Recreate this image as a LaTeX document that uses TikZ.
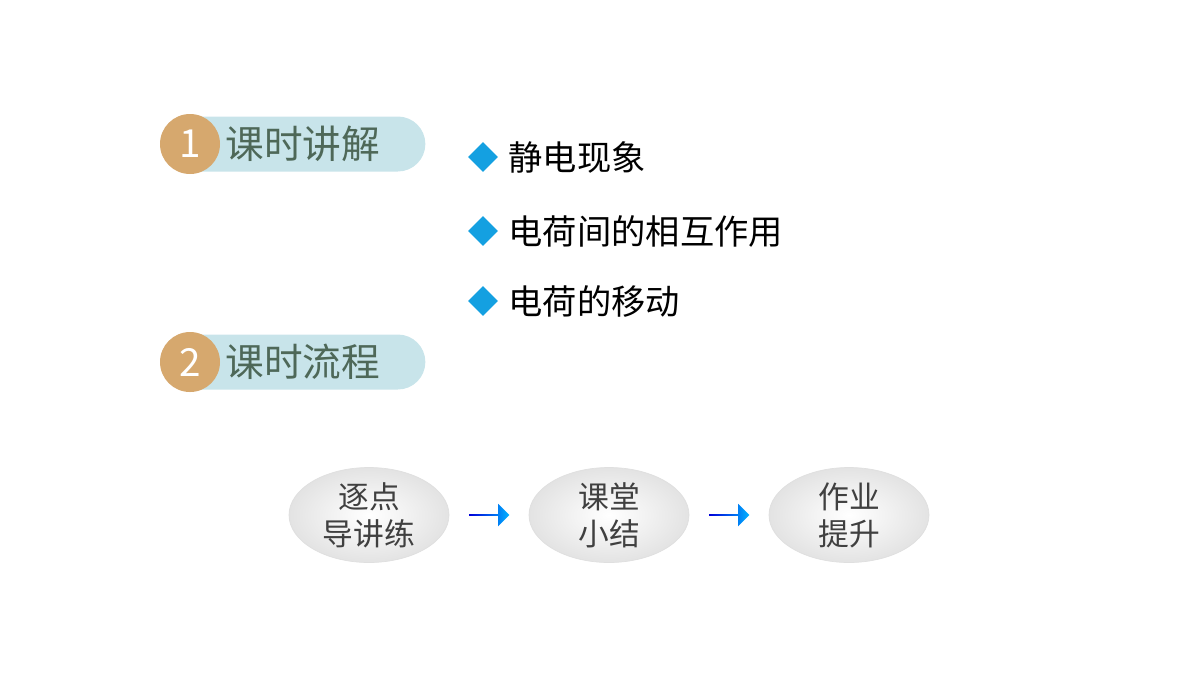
\documentclass[tikz,border=0pt]{standalone}
\usepackage{fontspec}
\setmainfont{Noto Sans CJK SC}
\usetikzlibrary{shapes.geometric,shapes.arrows,positioning,calc}
\definecolor{pillblue}{RGB}{200,228,234}
\definecolor{badgeorange}{RGB}{214,168,110}
\definecolor{headtext}{RGB}{78,104,88}
\definecolor{diamondblue}{RGB}{20,160,225}
\tikzset{
  headpill/.style={fill=pillblue,rounded corners=0.55cm,minimum height=1.1cm,minimum width=5.1cm,inner sep=0pt},
  headbadge/.style={circle,fill=badgeorange,minimum size=1.2cm,inner sep=0pt,text=white,font=\fontsize{22}{22}\selectfont},
  headline/.style={text=headtext,font=\fontsize{22}{22}\selectfont,anchor=west,inner sep=0pt},
  pointtext/.style={font=\fontsize{19.5}{22}\selectfont,anchor=west,inner sep=0pt},
  dmark/.style={diamond,fill=diamondblue,minimum size=0.6cm,inner sep=0pt},
  flowstep/.style={ellipse,minimum width=3.2cm,minimum height=1.9cm,inner sep=0pt,
    draw=gray!25,inner color=white,outer color=gray!22,align=center,
    text=black!75,font=\fontsize{17.5}{21}\selectfont},
  flowarrow/.style={single arrow,minimum height=0.8cm,minimum width=0.45cm,single arrow head extend=0.08cm,
    inner sep=0pt,left color=blue!85!black,right color=cyan!70!blue}
}
\begin{document}
\begin{tikzpicture}
\useasboundingbox (0,0) rectangle (24,-13.5);
% headings
\node[headpill,anchor=west] (p1) at (3.4,-2.88) {};
\node[headbadge] (b1) at (3.8,-2.88) {1};
\node[headline] (h1) at (4.5,-2.88) {课时讲解};
\node[headpill,anchor=west] (p2) at (3.4,-7.24) {};
\node[headbadge] (b2) at (3.8,-7.24) {2};
\node[headline] (h2) at (4.5,-7.24) {课时流程};
% points
\foreach \y/\t [count=\i] in {-3.14/静电现象,-4.62/电荷间的相互作用,-6.02/电荷的移动}{
  \node[dmark] (m\i) at (9.66,\y) {};
  \node[pointtext,right=0.2cm of m\i] (t\i) {\t};
}
% flow
\node[flowstep] (s1) at (7.38,-10.3) {逐点\\导讲练};
\node[flowstep] (s2) at (12.18,-10.3) {课堂\\小结};
\node[flowstep] (s3) at (16.98,-10.3) {作业\\提升};
\node[flowarrow] (a1) at ($(s1)!0.5!(s2)$) {};
\node[flowarrow] (a2) at ($(s2)!0.5!(s3)$) {};
\end{tikzpicture}
\end{document}
